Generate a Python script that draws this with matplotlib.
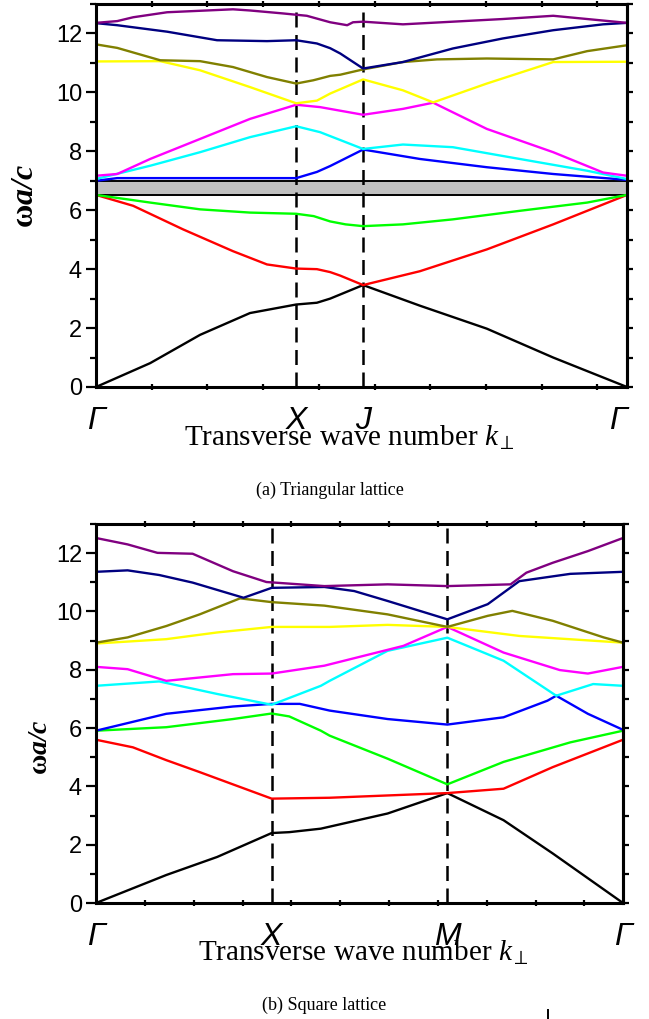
import matplotlib
matplotlib.use("Agg")
import matplotlib.pyplot as plt
from matplotlib.ticker import MultipleLocator, FixedLocator
from matplotlib.lines import Line2D

# ---------- datos: red triangular (Gamma=0, X=0.377, J=0.503, Gamma=1) ----------
tri_ticks = [0, 0.377, 0.503, 1.0]
tri_labels = ['Γ', 'X', 'J', 'Γ']

tri_black_x = [0, 0.102, 0.196, 0.290, 0.377, 0.416, 0.441, 0.503, 0.610, 0.736, 0.861, 1.0]
tri_black_y = [0, 0.81, 1.77, 2.51, 2.80, 2.86, 3.00, 3.46, 2.76, 1.98, 1.00, 0]
tri_red_x = [0, 0.070, 0.164, 0.258, 0.322, 0.377, 0.416, 0.441, 0.460, 0.503, 0.610, 0.736, 0.861, 1.0]
tri_red_y = [6.52, 6.15, 5.35, 4.61, 4.16, 4.02, 4.00, 3.90, 3.78, 3.46, 3.93, 4.67, 5.52, 6.52]
tri_green_x = [0, 0.102, 0.196, 0.290, 0.377, 0.410, 0.441, 0.470, 0.503, 0.578, 0.672, 0.798, 0.925, 1.0]
tri_green_y = [6.52, 6.26, 6.03, 5.92, 5.88, 5.80, 5.62, 5.52, 5.46, 5.52, 5.69, 5.98, 6.26, 6.52]
tri_blue_x = [0, 0.040, 0.200, 0.377, 0.416, 0.441, 0.503, 0.610, 0.736, 0.861, 1.0]
tri_blue_y = [7.00, 7.09, 7.09, 7.09, 7.30, 7.50, 8.06, 7.74, 7.46, 7.23, 7.03]
tri_cyan_x = [0, 0.102, 0.196, 0.290, 0.377, 0.422, 0.503, 0.578, 0.672, 0.798, 0.925, 1.0]
tri_cyan_y = [7.06, 7.51, 7.97, 8.48, 8.85, 8.65, 8.08, 8.23, 8.14, 7.74, 7.34, 7.06]
tri_magenta_x = [0, 0.040, 0.102, 0.196, 0.290, 0.377, 0.422, 0.503, 0.578, 0.635, 0.736, 0.861, 0.955, 1.0]
tri_magenta_y = [7.17, 7.23, 7.74, 8.42, 9.10, 9.58, 9.50, 9.24, 9.44, 9.65, 8.76, 7.97, 7.28, 7.17]
tri_yellow_x = [0, 0.121, 0.196, 0.290, 0.377, 0.416, 0.441, 0.503, 0.578, 0.610, 0.635, 0.736, 0.861, 1.0]
tri_yellow_y = [11.05, 11.06, 10.75, 10.18, 9.63, 9.72, 9.96, 10.44, 10.07, 9.84, 9.66, 10.30, 11.03, 11.04]
tri_olive_x = [0, 0.040, 0.121, 0.196, 0.258, 0.322, 0.377, 0.409, 0.422, 0.441, 0.460, 0.503, 0.578, 0.642, 0.736, 0.861, 0.925, 1.0]
tri_olive_y = [11.63, 11.51, 11.09, 11.06, 10.86, 10.52, 10.30, 10.41, 10.47, 10.56, 10.60, 10.78, 11.03, 11.12, 11.15, 11.12, 11.40, 11.60]
tri_navy_x = [0, 0.040, 0.134, 0.228, 0.322, 0.377, 0.416, 0.441, 0.460, 0.503, 0.578, 0.672, 0.766, 0.861, 0.955, 1.0]
tri_navy_y = [12.35, 12.28, 12.06, 11.77, 11.74, 11.77, 11.66, 11.50, 11.32, 10.81, 11.03, 11.49, 11.83, 12.11, 12.31, 12.36]
tri_purple_x = [0, 0.040, 0.070, 0.134, 0.258, 0.290, 0.352, 0.397, 0.441, 0.473, 0.484, 0.503, 0.578, 0.672, 0.766, 0.861, 0.925, 1.0]
tri_purple_y = [12.36, 12.42, 12.55, 12.72, 12.82, 12.78, 12.68, 12.60, 12.38, 12.28, 12.38, 12.40, 12.31, 12.40, 12.49, 12.60, 12.49, 12.36]

# ---------- datos: red cuadrada (Gamma=0, X=1, M=2, Gamma=3) ----------
sq_ticks = [0, 1, 2, 3]
sq_labels = ['Γ', 'X', 'M', 'Γ']

sq_black_x = [0, 0.40, 0.69, 1.0, 1.10, 1.28, 1.66, 2.0, 2.32, 2.60, 3.0]
sq_black_y = [0, 0.96, 1.58, 2.40, 2.43, 2.55, 3.07, 3.77, 2.84, 1.70, 0]
sq_red_x = [0, 0.21, 0.40, 0.59, 1.0, 1.33, 2.0, 2.32, 2.60, 2.80, 3.0]
sq_red_y = [5.60, 5.34, 4.90, 4.49, 3.58, 3.61, 3.77, 3.92, 4.66, 5.13, 5.60]
sq_green_x = [0, 0.40, 0.78, 1.0, 1.10, 1.28, 1.33, 1.66, 2.0, 2.32, 2.70, 3.0]
sq_green_y = [5.91, 6.03, 6.31, 6.50, 6.40, 5.91, 5.74, 4.95, 4.07, 4.84, 5.51, 5.91]
sq_blue_x = [0, 0.40, 0.78, 1.0, 1.16, 1.33, 1.66, 2.0, 2.32, 2.57, 2.62, 2.80, 3.0]
sq_blue_y = [5.91, 6.49, 6.74, 6.83, 6.83, 6.60, 6.31, 6.12, 6.37, 6.94, 7.11, 6.49, 5.94]
sq_cyan_x = [0, 0.36, 0.69, 1.0, 1.28, 1.33, 1.66, 2.0, 2.32, 2.62, 2.83, 3.0]
sq_cyan_y = [7.45, 7.60, 7.17, 6.80, 7.45, 7.62, 8.65, 9.10, 8.31, 7.11, 7.51, 7.45]
sq_magenta_x = [0, 0.18, 0.40, 0.78, 1.0, 1.30, 1.75, 2.0, 2.32, 2.64, 2.80, 3.0]
sq_magenta_y = [8.10, 8.02, 7.62, 7.85, 7.87, 8.14, 8.82, 9.47, 8.59, 7.99, 7.87, 8.10]
sq_yellow_x = [0, 0.40, 0.69, 1.0, 1.33, 1.66, 2.0, 2.41, 3.0]
sq_yellow_y = [8.90, 9.05, 9.28, 9.47, 9.47, 9.54, 9.47, 9.16, 8.93]
sq_olive_x = [0, 0.18, 0.40, 0.59, 0.82, 1.0, 1.30, 1.66, 2.0, 2.23, 2.37, 2.60, 2.89, 3.0]
sq_olive_y = [8.93, 9.11, 9.50, 9.90, 10.45, 10.32, 10.20, 9.90, 9.47, 9.85, 10.02, 9.68, 9.11, 8.93]
sq_navy_x = [0, 0.18, 0.36, 0.55, 0.84, 1.0, 1.30, 1.47, 1.66, 2.0, 2.23, 2.41, 2.70, 3.0]
sq_navy_y = [11.36, 11.41, 11.25, 10.99, 10.47, 10.81, 10.84, 10.70, 10.36, 9.73, 10.25, 11.04, 11.29, 11.36]
sq_purple_x = [0, 0.18, 0.35, 0.55, 0.78, 0.97, 1.30, 1.66, 2.0, 2.36, 2.45, 2.60, 2.80, 3.0]
sq_purple_y = [12.52, 12.30, 12.01, 11.98, 11.38, 11.01, 10.87, 10.93, 10.87, 10.93, 11.33, 11.67, 12.07, 12.52]

plt.rcParams['font.family'] = 'Liberation Sans'
plt.rcParams['mathtext.fontset'] = 'custom'
plt.rcParams['mathtext.rm'] = 'Liberation Serif'
plt.rcParams['mathtext.it'] = 'Liberation Serif:italic'
plt.rcParams['mathtext.bf'] = 'Liberation Serif:bold'
plt.rcParams['mathtext.bfit'] = 'Liberation Serif:italic:bold'

fig = plt.figure(figsize=(6.49, 10.19), dpi=100)
ax1 = fig.add_axes([96/649, 1-387/1019, 531/649, 383/1019])
ax2 = fig.add_axes([96/649, 1-903/1019, 527/649, 379/1019])


def estilo(ax, ticks, labels, xmax, paso):
    ax.set_xlim(0, xmax)
    ax.set_ylim(0, 13)
    for s in ax.spines.values():
        s.set_linewidth(2.2)
    ax.yaxis.set_major_locator(MultipleLocator(2))
    ax.yaxis.set_minor_locator(MultipleLocator(1))
    ax.tick_params(axis='y', which='major', direction='out', length=7, width=1.6,
                   labelsize=17, pad=3)
    ax.tick_params(axis='y', which='minor', direction='out', length=4, width=1.6)
    ax.set_xticks(ticks)
    ax.set_xticklabels(labels, fontsize=23, fontstyle='italic')
    ax.xaxis.set_minor_locator(FixedLocator([k * paso for k in range(1, 12) if k * paso < xmax]))
    ax.tick_params(axis='x', which='major', length=0, pad=14)
    ax.tick_params(axis='x', which='minor', direction='inout', length=5, width=1.6,
                   top=True, bottom=True)
    der = ax.secondary_yaxis('right')
    der.yaxis.set_major_locator(MultipleLocator(1))
    der.tick_params(direction='out', length=4, width=1.6, labelright=False)
    der.spines['right'].set_linewidth(2.2)
    for t in ticks[1:-1]:
        ax.axvline(t, color='black', lw=1.8, dashes=(6, 3), zorder=1)


estilo(ax1, tri_ticks, tri_labels, 1.0, 0.1049)
estilo(ax2, sq_ticks, sq_labels, 3.0, 0.278)
ax1.get_xticklabels()[-1].set_horizontalalignment('right')

# banda prohibida
ax1.axhspan(6.5, 7.0, facecolor='#c0c0c0', edgecolor='none', zorder=0)
ax1.axhline(6.5, color='black', lw=1.4, zorder=1)
ax1.axhline(7.0, color='black', lw=1.4, zorder=1)

lw = 1.7
ax1.plot(tri_black_x, tri_black_y, color='black', lw=lw)
ax1.plot(tri_red_x, tri_red_y, color='#ff0000', lw=lw)
ax1.plot(tri_green_x, tri_green_y, color='#00ff00', lw=lw)
ax1.plot(tri_blue_x, tri_blue_y, color='#0000ff', lw=lw)
ax1.plot(tri_cyan_x, tri_cyan_y, color='#00ffff', lw=lw)
ax1.plot(tri_magenta_x, tri_magenta_y, color='#ff00ff', lw=lw)
ax1.plot(tri_yellow_x, tri_yellow_y, color='#ffff00', lw=lw)
ax1.plot(tri_olive_x, tri_olive_y, color='#808000', lw=lw)
ax1.plot(tri_navy_x, tri_navy_y, color='#000080', lw=lw)
ax1.plot(tri_purple_x, tri_purple_y, color='#800080', lw=lw)

ax2.plot(sq_black_x, sq_black_y, color='black', lw=lw)
ax2.plot(sq_red_x, sq_red_y, color='#ff0000', lw=lw)
ax2.plot(sq_green_x, sq_green_y, color='#00ff00', lw=lw)
ax2.plot(sq_blue_x, sq_blue_y, color='#0000ff', lw=lw)
ax2.plot(sq_cyan_x, sq_cyan_y, color='#00ffff', lw=lw)
ax2.plot(sq_magenta_x, sq_magenta_y, color='#ff00ff', lw=lw)
ax2.plot(sq_yellow_x, sq_yellow_y, color='#ffff00', lw=lw)
ax2.plot(sq_olive_x, sq_olive_y, color='#808000', lw=lw)
ax2.plot(sq_navy_x, sq_navy_y, color='#000080', lw=lw)
ax2.plot(sq_purple_x, sq_purple_y, color='#800080', lw=lw)

# etiquetas de ejes
ax1.set_ylabel(r'$\mathbf{\omega}\mathbfit{a/c}$', fontsize=23)
ax1.yaxis.set_label_coords(-0.105, 0.5)
ax2.set_ylabel(r'$\mathbf{\omega}\mathbfit{a/c}$', fontsize=20)
ax2.yaxis.set_label_coords(-0.082, 0.41)

xlab = r'Transverse wave number $k_{\perp}$'
ax1.text(0.478, -0.153, xlab, transform=ax1.transAxes, ha='center', va='baseline',
         fontsize=21, family='Liberation Serif')
ax2.text(0.507, -0.152, xlab, transform=ax2.transAxes, ha='center', va='baseline',
         fontsize=21, family='Liberation Serif')

fig.text(330/649, 1-490/1019, '(a) Triangular lattice', ha='center', va='center',
         fontsize=13, family='Liberation Serif')
fig.text(324/649, 1-1005/1019, '(b) Square lattice', ha='center', va='center',
         fontsize=13, family='Liberation Serif')
fig.add_artist(Line2D([548/649, 548/649], [1-1010/1019, 0.0], color='black', lw=1.4))

fig.savefig('out.png', dpi=100)
